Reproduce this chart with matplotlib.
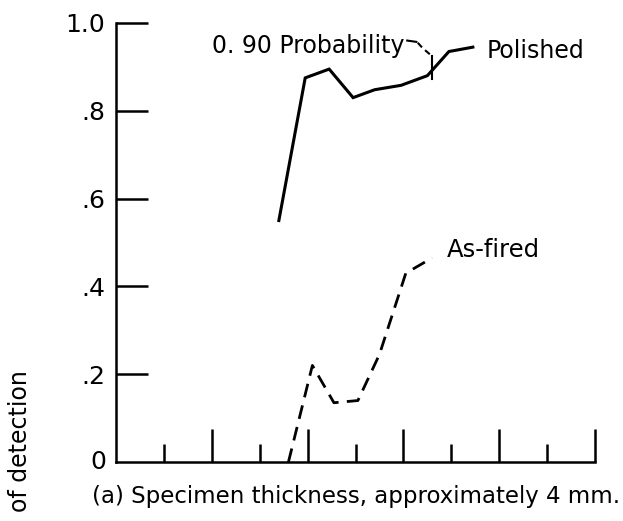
import matplotlib.pyplot as plt
from matplotlib.ticker import FixedLocator

plt.rcParams['font.family'] = ['DejaVu Sans']

# data (x in tick units along the thickness axis)
polished_x = [3.4, 3.95, 4.45, 4.95, 5.4, 5.95, 6.5, 6.95, 7.45]
polished_y = [0.55, 0.875, 0.895, 0.83, 0.848, 0.858, 0.88, 0.935, 0.945]

asfired_x = [3.6, 4.1, 4.55, 5.05, 5.5, 6.05, 6.6]
asfired_y = [0.0, 0.22, 0.135, 0.14, 0.245, 0.43, 0.465]

yticks = [0.2, 0.4, 0.6, 0.8, 1.0]
ytick_labels = ['.2', '.4', '.6', '.8', '1.0']
xmajor = [2, 4, 6, 8, 10]
xminor = [1, 3, 5, 7, 9]

fig = plt.figure(figsize=(6.23, 5.21), dpi=100)
ax = fig.add_axes([116/623, 59/521, 479/623, 439/521])

ax.plot(polished_x, polished_y, color='black', lw=2.2, solid_joinstyle='miter')
ax.plot(asfired_x, asfired_y, color='black', lw=2.0, dashes=(5, 3))

ax.set_xlim(0, 10)
ax.set_ylim(0, 1.0)

for s in ['top', 'right']:
    ax.spines[s].set_visible(False)
for s in ['left', 'bottom']:
    ax.spines[s].set_linewidth(1.8)

ax.set_yticks(yticks)
ax.set_yticklabels(ytick_labels)
ax.tick_params(axis='y', direction='in', length=23, width=1.8, labelsize=18, pad=8)
ax.xaxis.set_major_locator(FixedLocator(xmajor))
ax.xaxis.set_minor_locator(FixedLocator(xminor))
ax.tick_params(axis='x', which='major', direction='in', length=24, width=1.8, labelbottom=False)
ax.tick_params(axis='x', which='minor', direction='in', length=13, width=1.8)

# "0" at origin
ax.text(-0.2, 0, '0', ha='right', va='center', fontsize=18)

ax.text(7.73, 0.936, 'Polished', fontsize=17, va='center')
ax.text(6.9, 0.482, 'As-fired', fontsize=17.5, va='center')
ax.text(2.0, 0.948, '0. 90 Probability', fontsize=17, va='center')

# leader from label to the 0.90 mark
ax.plot([6.08, 6.27], [0.960, 0.957], color='black', lw=1.5)
ax.plot([6.3, 6.4, 6.56], [0.955, 0.943, 0.928], color='black', lw=1.5, dashes=(3, 2))
ax.plot([6.6, 6.6], [0.872, 0.925], color='black', lw=1.5)

fig.text(20/623, 1 - 441/521, 'of detection', rotation=90, ha='center', va='center', fontsize=17)
fig.text(92/623, 1 - 497/521, '(a) Specimen thickness, approximately 4 mm.', ha='left', va='center', fontsize=16.5)

fig.savefig('out.png', dpi=100)
